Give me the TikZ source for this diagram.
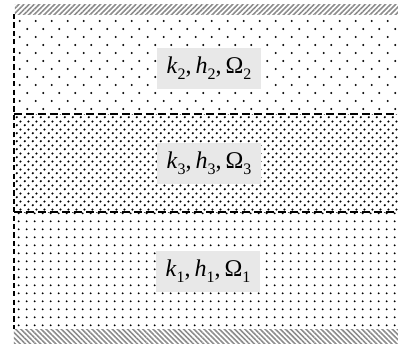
\documentclass[tikz,border=0pt]{standalone}
\usepackage{fontspec}
\setmainfont{Liberation Serif}
\usepackage{tikz}
\usetikzlibrary{patterns,patterns.meta}

% dot fillings of the three layers
\tikzdeclarepattern{
  name=sparsedots,
  type=uncolored,
  bottom left={(0pt,0pt)},
  top right={(7.75pt,8pt)},
  tile size={(7.75pt,8pt)},
  code={
    \fill (1.9pt,2pt) circle (0.55pt);
    \fill (5.8pt,6pt) circle (0.55pt);
  }
}
\tikzdeclarepattern{
  name=mediumdots,
  type=uncolored,
  bottom left={(0pt,0pt)},
  top right={(3.85pt,3.85pt)},
  tile size={(3.85pt,3.85pt)},
  code={
    \fill (1.9pt,1.9pt) circle (0.55pt);
  }
}
\tikzdeclarepattern{
  name=densedots,
  type=uncolored,
  bottom left={(0pt,0pt)},
  top right={(3.8pt,3.8pt)},
  tile size={(3.8pt,3.8pt)},
  code={
    \fill (0.95pt,0.95pt) circle (0.6pt);
    \fill (2.85pt,2.85pt) circle (0.6pt);
  }
}

\newcommand{\lsub}[1]{\raisebox{-0.5ex}{\fontsize{8}{9}\selectfont #1}}

\begin{document}
\begin{tikzpicture}[x=0.5pt,y=-0.5pt,
    layerlabel/.style={fill=labelgray, inner sep=0pt, minimum width=52pt,
      minimum height=20.5pt, font=\fontsize{12}{14}\selectfont},
    boundary/.style={black, line width=0.7pt, dash pattern=on 4pt off 2pt}]
    % Define colors
    \definecolor{labelgray}{RGB}{232, 232, 232}
    \definecolor{hatchgray}{RGB}{140, 140, 140}

    \useasboundingbox (0,0) rectangle (398,344);

    % Walls (top and bottom)
    \fill[pattern={Lines[angle=45,distance=1.8pt,line width=0.8pt]}, pattern color=hatchgray]
        (15,4) rectangle (398,14);
    \fill[pattern={Lines[angle=-45,distance=1.8pt,line width=0.8pt]}, pattern color=hatchgray]
        (14,329) rectangle (398,343);

    % Layer 2 (top)
    \fill[pattern=sparsedots, pattern color=black] (14,14) rectangle (398,114);
    % Layer 3 (middle)
    \fill[pattern=densedots, pattern color=black] (14,114) rectangle (398,212);
    % Layer 1 (bottom)
    \fill[pattern=mediumdots, pattern color=black] (14,212) rectangle (398,329);

    % Interfaces
    \draw[boundary] (14,114) -- (398,114);
    \draw[boundary] (14,212) -- (398,212);
    \draw[boundary, line width=0.9pt, dash pattern=on 2.6pt off 1.6pt] (14,14) -- (14,329);

    % Layer properties
    \node[layerlabel] (lab2) at (209,68) {\textit{k}\lsub{2},\,\textit{h}\lsub{2},\,Ω\lsub{2}};
    \node[layerlabel] (lab3) at (209,163) {\textit{k}\lsub{3},\,\textit{h}\lsub{3},\,Ω\lsub{3}};
    \node[layerlabel] (lab1) at (208,271) {\textit{k}\lsub{1},\,\textit{h}\lsub{1},\,Ω\lsub{1}};
\end{tikzpicture}
\end{document}
